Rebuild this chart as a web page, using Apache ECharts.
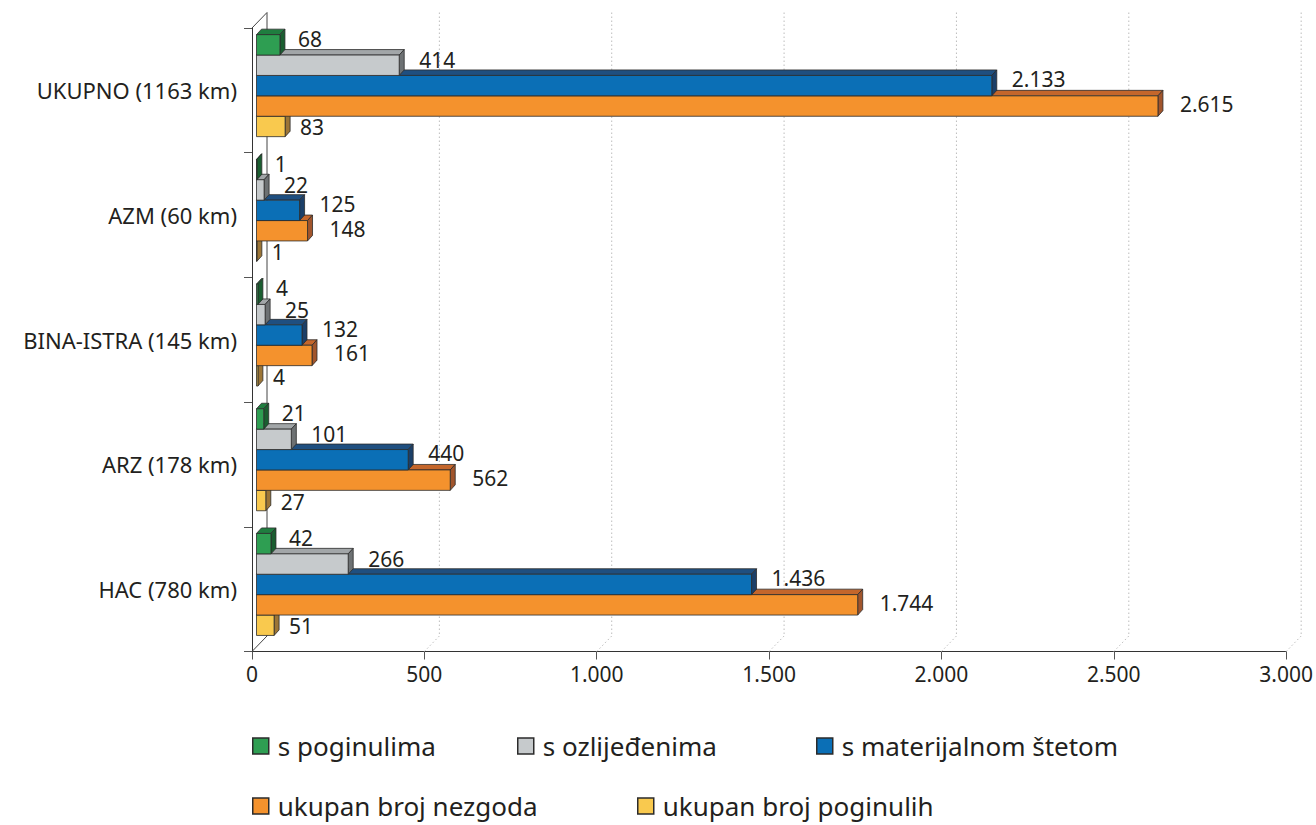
<!DOCTYPE html>
<html>
<head>
<meta charset="utf-8">
<script src="https://cdn.jsdelivr.net/npm/echarts@6/dist/echarts.min.js"></script>
<style>html,body{margin:0;padding:0;background:#fff;}#c{width:1316px;height:825px;}</style>
</head>
<body>
<div id="c"></div>
<script>
// ---- data ----
const categories = ['UKUPNO (1163 km)', 'AZM (60 km)', 'BINA-ISTRA (145 km)', 'ARZ (178 km)', 'HAC (780 km)'];
const seriesNames = ['s poginulima', 's ozlijeđenima', 's materijalnom štetom', 'ukupan broj nezgoda', 'ukupan broj poginulih'];
const sPoginulima = [68, 1, 4, 21, 42];
const sOzlijedenima = [414, 22, 25, 101, 266];
const sMaterijalnomStetom = [2133, 125, 132, 440, 1436];
const ukupanBrojNezgoda = [2615, 148, 161, 562, 1744];
const ukupanBrojPoginulih = [83, 1, 4, 27, 51];
const xTicks = [0, 500, 1000, 1500, 2000, 2500, 3000];

// ---- styles ----
const seriesValues = [sPoginulima, sOzlijedenima, sMaterijalnomStetom, ukupanBrojNezgoda, ukupanBrojPoginulih];
const palette = [
  {front:'#2e9e52', top:'#1f7d3f', side:'#1a5e30'},
  {front:'#c6cacc', top:'#a2a6a8', side:'#6d7173'},
  {front:'#0b6fb6', top:'#1f4f80', side:'#1b3f68'},
  {front:'#f4922d', top:'#c4662b', side:'#a1552c'},
  {front:'#f9c94e', top:'#c89a3c', side:'#9c7536'}
];
const labelGap = [13, 15, 15, 17, 10];
const labelDy = [-6, -5, -6.5, -2, 1];

function fmt(n){ return String(Math.round(n)).replace(/\B(?=(\d{3})+(?!\d))/g, '.'); }

const TXT = '#231f20';
const FONT = 'Noto Sans';

function barRender(idx, col){
  return function(params, api){
    const cat = api.value(1), val = api.value(0);
    const p0 = api.coord([0, cat]);
    const p1 = api.coord([val, cat]);
    const band = Math.abs(api.size([0, 1])[1]);
    const h = band * 0.1636;
    const ox = 4.5, oy = -4.7, dx = 5, dy = -5.5;
    const yt = p0[1] - 2.5 * h + idx * h + oy;
    const yb = yt + h;
    const x0 = p0[0] + ox, x1 = p1[0] + ox;
    const st = {stroke:'#2b2b2b', lineWidth:0.8};
    return {type:'group', children:[
      {type:'polygon', shape:{points:[[x0,yt],[x1,yt],[x1+dx,yt+dy],[x0+dx,yt+dy]]}, style:Object.assign({fill:col.top}, st)},
      {type:'polygon', shape:{points:[[x1,yt],[x1+dx,yt+dy],[x1+dx,yb+dy],[x1,yb]]}, style:Object.assign({fill:col.side}, st)},
      {type:'rect', shape:{x:x0, y:yt, width:Math.max(x1-x0,0.3), height:h}, style:Object.assign({fill:col.front}, st)},
      {type:'text', style:{text:fmt(val), x:x1+dx+labelGap[idx], y:(yt+yb)/2+labelDy[idx], align:'left', verticalAlign:'middle', fontSize:21, lineHeight:18, fontFamily:FONT, fill:TXT}}
    ]};
  };
}

function wallRender(params, api){
  const v = api.value(0);
  const cs = params.coordSys;
  const x = api.coord([v, 0])[0];
  const top = cs.y, bottom = cs.y + cs.height;
  const dx = 15, dy = -15.5;
  if (v === 0) {
    const st = {stroke:'#444', lineWidth:1};
    return {type:'group', children:[
      {type:'line', shape:{x1:x+dx, y1:top+dy, x2:x+dx, y2:bottom+dy}, style:st},
      {type:'line', shape:{x1:x, y1:top, x2:x+dx, y2:top+dy}, style:st},
      {type:'line', shape:{x1:x, y1:bottom, x2:x+dx, y2:bottom+dy}, style:st}
    ]};
  }
  const st = {stroke:'#bdbdbd', lineWidth:1, lineDash:[1.5, 2.5]};
  return {type:'group', children:[
    {type:'line', shape:{x1:x+dx, y1:top+dy, x2:x+dx, y2:bottom+dy}, style:st},
    {type:'line', shape:{x1:x, y1:bottom, x2:x+dx, y2:bottom+dy}, style:st}
  ]};
}

const chart = echarts.init(document.getElementById('c'), null, {renderer:'svg'});

const series = [{
  type:'custom', name:'wall', silent:true, z:1,
  renderItem: wallRender,
  encode:{x:0, y:1},
  data: xTicks.map(v => [v, 0])
}];
seriesNames.forEach((name, i) => {
  series.push({
    type:'custom', name:name, z:10 - i,
    renderItem: barRender(i, palette[i]),
    encode:{x:0, y:1},
    itemStyle:{color:palette[i].front},
    data: seriesValues[i].map((v, k) => [v, k])
  });
});

const legendPos = [[252, 733], [517, 733], [816, 733], [252, 793], [637, 793]];
const legends = seriesNames.map((n, i) => ({
  data:[n], left:legendPos[i][0], top:legendPos[i][1], padding:0,
  icon:'rect', itemWidth:16, itemHeight:16, selectedMode:false,
  itemStyle:{borderColor:'#2b2b2b', borderWidth:1.5},
  textStyle:{fontSize:26, lineHeight:26, color:TXT, fontFamily:FONT, padding:[0,0,0,4]}
}));

chart.setOption({
  animation:false,
  backgroundColor:'#fff',
  textStyle:{fontFamily:FONT},
  grid:{left:252, right:24, top:28, bottom:173.5},
  legend: legends,
  xAxis:{
    type:'value', min:0, max:3000, interval:500,
    axisLine:{show:true, lineStyle:{color:'#333', width:1}},
    axisTick:{show:true, length:8, lineStyle:{color:'#555'}},
    splitLine:{show:false},
    axisLabel:{formatter:v => fmt(v), fontSize:21, color:TXT, fontFamily:FONT, margin:12}
  },
  yAxis:{
    type:'category', data:categories, inverse:true,
    axisLine:{show:true, lineStyle:{color:'#333', width:1}},
    axisTick:{show:true, length:8, lineStyle:{color:'#555'}},
    axisLabel:{fontSize:22, color:TXT, fontFamily:FONT, margin:15}
  },
  series: series
});
</script>
</body>
</html>
